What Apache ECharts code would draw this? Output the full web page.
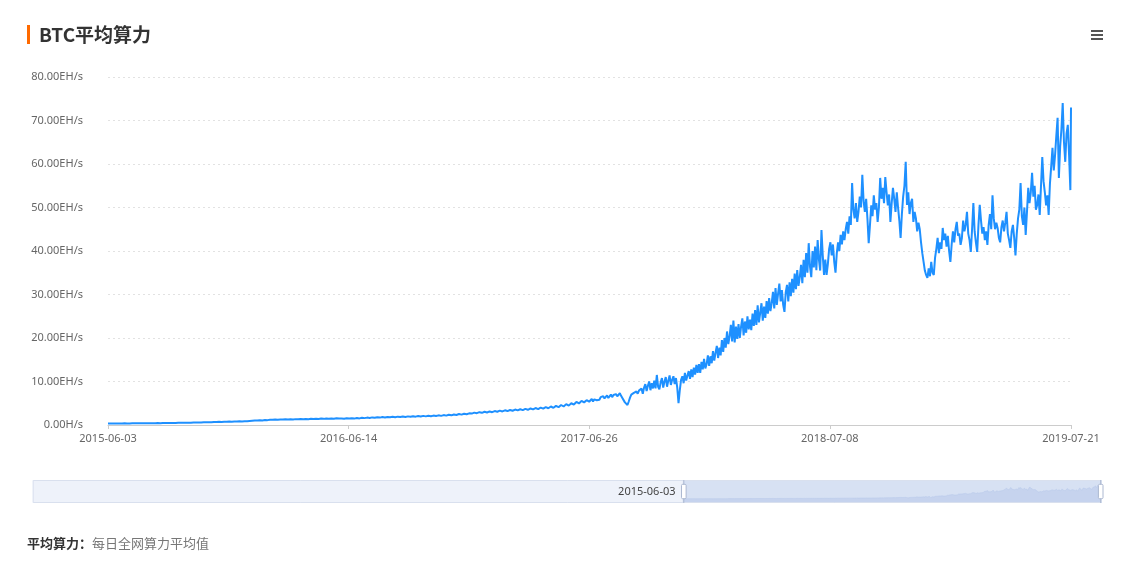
<!DOCTYPE html>
<html>
<head>
<meta charset="utf-8">
<script src="https://cdn.jsdelivr.net/npm/echarts@6/dist/echarts.min.js"></script>
<style>
  html, body { margin: 0; padding: 0; background: #fff; }
  #chart { width: 1124px; height: 561px; }
</style>
</head>
<body>
<div id="chart"></div>
<script>
// ---------------- data ----------------
// Full daily category axis (the zoom window shows 2015-06-03 .. 2019-07-21)
const AXIS_FIRST_DATE = '2009-01-03';
const AXIS_LAST_DATE = '2019-07-21';
const WINDOW_START_DATE = '2015-06-03';

// x-axis tick labels shown in the plot
const xTickLabels = ['2015-06-03', '2016-06-14', '2017-06-26', '2018-07-08', '2019-07-21'];

// Average hash rate (EH/s).
// 2015-06-03, then every 4 days from 2015-06-05 up to 2017-06-26:
const hr2015 = [0.35,
  0.34,0.36,0.35,0.37,0.35,0.36,0.38,0.36,0.37,0.39,
  0.38,0.40,0.39,0.41,0.40,0.42,0.41,0.43,0.42,0.44,
  0.43,0.45,0.44,0.47,0.46,0.48,0.47,0.50,0.49,0.52,
  0.51,0.54,0.53,0.57,0.56,0.60,0.58,0.62,0.61,0.66,
  0.64,0.69,0.67,0.72,0.70,0.75,0.73,0.78,0.76,0.80,
  0.79,0.84,0.82,0.88,0.86,0.92];
const hr2016a = [
  0.98,1.04,1.01,1.10,1.06,1.15,1.12,1.22,1.18,1.25,
  1.21,1.28,1.24,1.30,1.26,1.33,1.28,1.35,1.30,1.37,
  1.32,1.39,1.34,1.42,1.37,1.45,1.38,1.47,1.41,1.50,
  1.43,1.52,1.46,1.55,1.48,1.50,1.42,1.56,1.50];
const hr2016b = [
  1.55,1.47,1.60,1.52,1.66,1.58,1.70,1.62,1.75,1.66,
  1.78,1.70,1.82,1.72,1.85,1.76,1.88,1.79,1.92,1.82,
  1.95,1.85,1.98,1.88,2.02,1.92,2.05,1.95,2.10,1.98,
  2.12,2.00,2.16,2.05,2.22,2.10,2.28,2.15,2.36,2.22,
  2.42,2.30,2.52,2.38,2.60,2.46,2.68];
const hr2017a = [
  2.62,2.85,2.72,2.95,2.80,3.05,2.88,3.12,2.95,3.20,
  3.05,3.30,3.12,3.38,3.20,3.45,3.28,3.55,3.35,3.62,
  3.42,3.70,3.50,3.80,3.58,3.90,3.65,4.00,3.75,4.10,
  3.85,4.25,3.95,4.40,4.10,4.60,4.25,4.80,4.45,5.00,
  4.70,5.30,4.95,5.55,5.20,5.70,5.35];
// every 2 days from 2017-06-28 to 2019-07-20, then 2019-07-21:
const hr2017b = [
  5.6,6.0,5.4,5.9,6.2,5.7,6.1,5.8,6.4,6.0,
  6.6,6.1,6.3,6.8,6.2,6.6,7.0,6.4,6.9,6.5,
  7.1,6.6,6.9,7.3,6.7,6.2,5.8,5.2,4.8,4.6,
  5.4,6.3,7.0,6.8,7.4,7.0,7.7,7.2,7.9,7.5,
  8.4,7.2,8.6,9.4,7.8,9.0,10.0,8.0,9.6,8.4,
  10.2,8.4,11.5,8.8,8.2,9.8,10.8,8.6,10.0,11.0,
  8.8,10.2,11.4,9.2,10.4,11.2,9.4,10.8,8.6,5.0,
  8.0,10.4,11.2,9.6,12.0,10.2,11.4,12.4,10.6,12.8,
  11.0,13.2,11.6,13.8,12.0,14.0];
const hr2018a = [
  12.0,14.5,12.8,15.2,13.0,14.0,16.0,13.6,15.8,14.2,
  17.0,14.8,16.6,18.2,15.4,17.8,16.0,19.5,16.8,20.0,
  17.8,21.5,18.6,20.4,23.0,19.2,24.0,19.0,22.6,19.8,
  23.2,20.0,22.6,24.5,20.6,23.8,21.2,25.0,22.0,24.2,
  21.8,25.6,22.8,26.4,23.0,27.5,23.6,25.8,28.0,24.0,
  27.2,24.6,28.5,25.6,29.2,26.2,28.0,30.6,26.8,31.5,
  27.6,30.2,32.5,28.4,31.0,27.6,26.0,30.5,32.2,28.4,
  32.8,29.6,33.6,30.4,34.8,31.2,35.6,32.0,34.0,36.8,
  32.6,38.0,34.0,39.5,35.0,41.8,36.4,34.0,40.0,36.2,
  41.0,35.6,42.5,38.0,35.5,44.8,39.0,34.5];
const hr2018b = [
  38.0,34.5,37.0,40.5,42.0,39.0,41.5,37.5,35.0,39.5,
  42.0,40.0,43.7,41.5,44.5,42.5,45.0,46.7,44.0,48.0,
  46.0,55.6,49.5,47.5,51.0,46.7,49.0,52.5,50.0,57.5,
  51.5,49.0,52.0,47.5,41.8,46.0,50.5,48.0,52.8,49.5,
  51.0,46.7,50.0,56.8,52.0,54.5,51.0,57.0,53.5,50.5,
  53.0,46.7,51.0,54.5,52.0,49.0,53.5,50.0,47.0,43.0,
  48.5,52.5,55.0,60.5,50.6,53.5,48.5,51.0,52.0,46.7,
  49.0,47.5,44.5,46.5,45.0,42.0,39.5,37.5,35.5,34.5];
const hr2019a = [
  33.8,36.0,34.2,37.5,35.0,34.5,38.5,40.5,43.0,39.5,
  42.0,40.5,45.3,42.5,44.0,41.0,43.5,40.0,37.5,41.5,
  44.5,42.0,45.0,46.7,43.5,44.0,41.4,43.0,47.0,44.5,
  46.0,49.0,44.0,42.5,39.8,45.0,51.0,44.5,42.0,39.8,
  46.0,50.6,47.0,44.0,45.5,42.5,44.5,41.4,46.0,48.5,
  45.0,52.8,47.5,45.0,46.5,45.3,43.0,42.0,45.5,47.0,
  44.5,46.5,49.0,44.0,42.5,40.7,44.5,46.0,43.0,39.0,
  44.0,47.5,49.5,55.6,48.0,46.0,50.0,43.7,49.0,54.5];
const hr2019b = [
  51.0,53.5,58.0,52.5,55.0,49.5,50.6,53.0,48.3,55.0,
  61.6,56.0,53.5,50.5,52.8,48.3,55.5,59.5,63.7,58.5,
  62.0,66.5,70.6,56.8,64.0,68.0,74.0,65.0,60.5,67.0,
  69.0,62.0,54.0,
  73.0];

// ---------------- build ----------------
function buildDates(a, b) {
  const out = [];
  const pa = a.split('-').map(Number), pb = b.split('-').map(Number);
  let t = Date.UTC(pa[0], pa[1] - 1, pa[2]);
  const end = Date.UTC(pb[0], pb[1] - 1, pb[2]);
  while (t <= end) {
    const d = new Date(t);
    out.push(d.getUTCFullYear() + '-' + String(d.getUTCMonth() + 1).padStart(2, '0') + '-' + String(d.getUTCDate()).padStart(2, '0'));
    t += 86400000;
  }
  return out;
}
const dates = buildDates(AXIS_FIRST_DATE, AXIS_LAST_DATE);
const startIdx = dates.indexOf(WINDOW_START_DATE);
const lastIdx = dates.length - 1;
const denseFrom = dates.indexOf('2017-06-28') - startIdx;

const readings = [].concat(hr2015, hr2016a, hr2016b, hr2017a, hr2017b, hr2018a, hr2018b, hr2019a, hr2019b);
// day offsets (from 2015-06-03) of the readings
const readingDays = [0];
for (let d = 2; d < denseFrom; d += 4) readingDays.push(d);
for (let d = denseFrom; d < lastIdx - startIdx; d += 2) readingDays.push(d);
readingDays.push(lastIdx - startIdx);
console.log('readings', readings.length, 'days', readingDays.length);

const values = new Array(dates.length).fill(null);
readingDays.forEach((d, i) => { values[startIdx + d] = readings[i]; });

const showTick = (index, value) => xTickLabels.indexOf(value) !== -1;

const chart = echarts.init(document.getElementById('chart'), null, { renderer: 'canvas' });
const option = {
  animation: false,
  backgroundColor: '#fff',
  textStyle: { fontFamily: '"Noto Sans", "Noto Sans CJK SC", sans-serif' },
  title: [{
    left: 27, top: 25, padding: 0,
    text: '{bar|}{t|BTC平均算力}',
    textStyle: {
      rich: {
        bar: { width: 3, height: 19, backgroundColor: '#ff6a00' },
        t: { fontSize: 19, fontWeight: 'bold', color: '#333', padding: [0, 0, 0, 9], fontFamily: '"Noto Sans CJK SC", sans-serif' }
      }
    }
  }, {
    left: 27, top: 537, padding: 0,
    text: '{b|平均算力：}{n|每日全网算力平均值}',
    textStyle: {
      rich: {
        b: { fontSize: 13, fontWeight: 'bold', color: '#333', fontFamily: '"Noto Sans CJK SC", sans-serif' },
        n: { fontSize: 13, fontWeight: 'normal', color: '#777', fontFamily: '"Noto Sans CJK SC", sans-serif' }
      }
    }
  }],
  toolbox: {
    right: 6, top: 15, itemSize: 12,
    feature: {
      myMenu: {
        show: true, title: '菜单',
        icon: 'path://M0,0H12V2H0Z M0,4H12V6H0Z M0,8H12V10H0Z',
        onclick: function () {}
      }
    },
    iconStyle: { color: '#555', borderWidth: 0 },
    emphasis: { iconStyle: { color: '#555', borderWidth: 0, textFill: 'transparent' } }
  },
  grid: { left: 108, right: 53, top: 77, bottom: 136, outerBoundsMode: 'none' },
  xAxis: {
    type: 'category',
    data: dates,
    boundaryGap: false,
    axisLine: { lineStyle: { color: '#ccc' } },
    axisTick: { show: true, interval: showTick, length: 4, lineStyle: { color: '#ccc' } },
    axisLabel: { interval: showTick, color: '#666', fontSize: 11, margin: 8 },
    splitLine: { show: false }
  },
  yAxis: {
    type: 'value',
    min: 0, max: 80, interval: 10,
    axisLine: { show: false },
    axisTick: { show: false },
    axisLabel: {
      color: '#666', fontSize: 11, margin: 25,
      formatter: v => v === 0 ? '0.00H/s' : v.toFixed(2) + 'EH/s'
    },
    splitLine: { lineStyle: { type: [2, 3], color: '#e2e2e2' } }
  },
  dataZoom: [{
    type: 'slider',
    xAxisIndex: 0,
    startValue: startIdx,
    endValue: lastIdx,
    left: 32, right: 23, top: 480, height: 23,
    brushSelect: false,
    backgroundColor: '#eef2fa',
    borderColor: '#d9e0ee',
    fillerColor: 'rgba(186,203,236,0.45)',
    dataBackground: {
      lineStyle: { color: '#c5d1ec', width: 0.5 },
      areaStyle: { color: '#c5d1ec', opacity: 0.6 }
    },
    selectedDataBackground: {
      lineStyle: { color: '#b4c4e8', width: 0.5 },
      areaStyle: { color: '#9fb3e0', opacity: 0.4 }
    },
    handleIcon: 'path://M-9.35,34.56V42m0-40V9.5m-2,0h4a2,2,0,0,1,2,2v21a2,2,0,0,1-2,2h-4a2,2,0,0,1-2-2v-21A2,2,0,0,1-11.35,9.5Z',
    handleSize: '100%',
    handleStyle: { color: '#fff', borderColor: '#acb8d1' },
    textStyle: { color: '#444', fontSize: 11 },
    labelFormatter: (value, valueStr) => (valueStr === AXIS_LAST_DATE ? '' : valueStr)
  }],
  series: [{
    name: '平均算力',
    type: 'line',
    data: values,
    connectNulls: true,
    showSymbol: false,
    symbol: 'none',
    lineStyle: { width: 2, color: '#1e90ff' },
    itemStyle: { color: '#1e90ff' }
  }]
};
chart.setOption(option);

// hover over the slider window so its handle labels are shown, as in the reference
try {
  chart.getZr().handler.mousemove({ zrX: 890, zrY: 491, type: 'mousemove', preventDefault() {}, stopPropagation() {} });
} catch (e) { console.log('hover failed', e && e.message); }
</script>
</body>
</html>
